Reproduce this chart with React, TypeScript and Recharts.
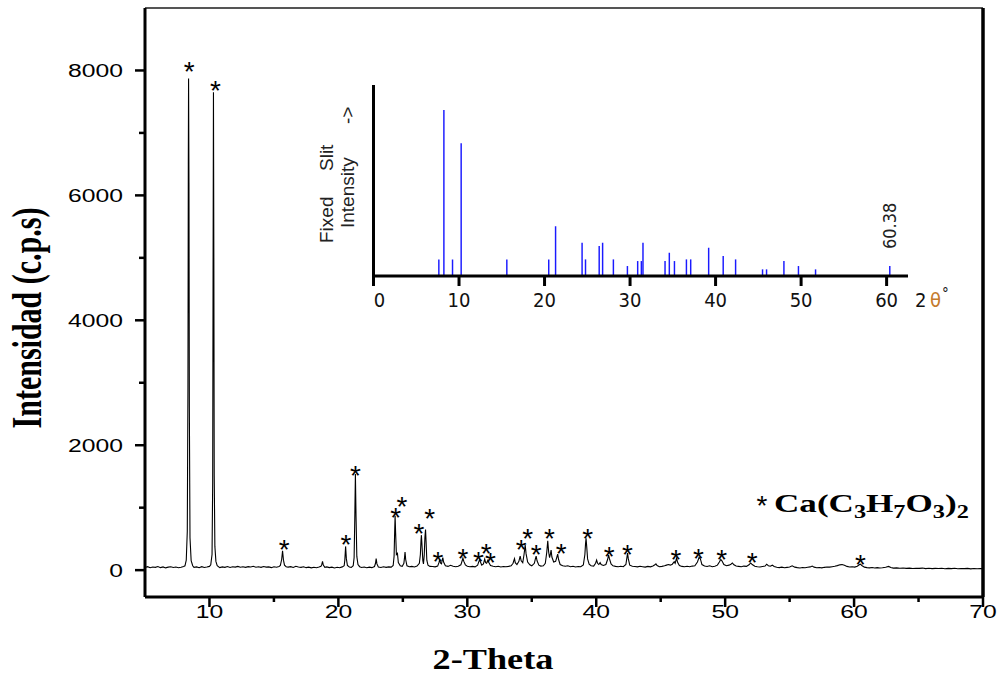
import React from 'react'
import { ComposedChart, Line, Scatter, BarChart, Bar, LabelList, XAxis, YAxis, ReferenceLine } from 'recharts'

// measured scan, [2θ, c.p.s]
const scanLow: [number, number][] = [
  [5.0, 42], [5.2, 55], [5.4, 38], [5.6, 50], [5.8, 44], [6.0, 58], [6.2, 40], [6.4, 52], [6.6, 36], [6.8, 48],
  [7.0, 55], [7.2, 42], [7.4, 50], [7.6, 38], [7.8, 47], [8.0, 58],
  [8.1, 70], [8.2, 160], [8.28, 620], [8.33, 2900], [8.36, 6500], [8.38, 7870], [8.41, 6200], [8.44, 2600], [8.49, 520], [8.58, 150], [8.7, 70],
  [8.8, 45], [9.0, 52], [9.2, 38], [9.4, 55], [9.6, 42], [9.8, 50], [10.0, 60],
  [10.1, 85], [10.2, 250], [10.25, 1400], [10.28, 4800], [10.31, 7650], [10.34, 5000], [10.37, 1500], [10.42, 380], [10.5, 140], [10.6, 70],
  [10.8, 40], [11.0, 52], [11.2, 45], [11.4, 58], [11.6, 42], [11.8, 55], [12.0, 48], [12.2, 60], [12.4, 46], [12.6, 54],
  [12.8, 44], [13.0, 56], [13.2, 50], [13.4, 62], [13.6, 47], [13.8, 55], [14.0, 45], [14.2, 58], [14.4, 48], [14.6, 52],
  [14.8, 40], [15.0, 55], [15.2, 46], [15.4, 58],
  [15.5, 75], [15.6, 170], [15.67, 310], [15.74, 160], [15.82, 80], [15.95, 55],
  [16.1, 48], [16.3, 56], [16.5, 42], [16.7, 62], [16.9, 50], [17.1, 44], [17.3, 55], [17.5, 40], [17.7, 48], [17.9, 36],
  [18.1, 45], [18.3, 38], [18.5, 50], [18.65, 60], [18.72, 95], [18.77, 140], [18.83, 80], [18.95, 45],
  [19.1, 52], [19.3, 40], [19.5, 48], [19.7, 35], [19.9, 46], [20.1, 38], [20.3, 52], [20.45, 70],
]

const scanMid: [number, number][] = [
  [20.5, 160], [20.56, 380], [20.62, 180], [20.7, 75], [20.85, 50], [21.0, 45], [21.15, 70],
  [21.22, 200], [21.27, 800], [21.32, 1540], [21.37, 850], [21.43, 220], [21.52, 90], [21.65, 55],
  [21.8, 42], [22.0, 50], [22.2, 38], [22.4, 48], [22.6, 40], [22.8, 58],
  [22.88, 110], [22.93, 185], [22.99, 100], [23.1, 50],
  [23.3, 42], [23.5, 55], [23.7, 45], [23.9, 52], [24.1, 48], [24.25, 75],
  [24.32, 220], [24.37, 650], [24.4, 870], [24.44, 600], [24.5, 250], [24.58, 270], [24.65, 120], [24.8, 70], [24.95, 60], [25.08, 110],
  [25.13, 200], [25.17, 290], [25.22, 170], [25.32, 70], [25.5, 55], [25.7, 60], [25.9, 50], [26.1, 65], [26.28, 110],
  [26.36, 250], [26.41, 480], [26.44, 560], [26.48, 420], [26.55, 150], [26.6, 100], [26.66, 240], [26.71, 520], [26.76, 650], [26.8, 470],
  [26.86, 160], [26.95, 80], [27.1, 60], [27.3, 58], [27.5, 52], [27.7, 65],
  [27.8, 120], [27.86, 170], [27.93, 110], [28.0, 100], [28.05, 160], [28.1, 200], [28.16, 130], [28.3, 70], [28.5, 60], [28.7, 78],
  [28.9, 62], [29.1, 55], [29.3, 62], [29.5, 85], [29.6, 150], [29.66, 190], [29.73, 140], [29.85, 85], [30.0, 62], [30.2, 55],
  [30.4, 60], [30.6, 52], [30.8, 80], [30.9, 140], [30.95, 165], [31.02, 130], [31.12, 80], [31.25, 100], [31.35, 175], [31.42, 120],
  [31.5, 110], [31.6, 160], [31.68, 120], [31.8, 75], [32.0, 62], [32.2, 55], [32.4, 62], [32.6, 50], [32.8, 58], [33.0, 55],
  [33.2, 60], [33.4, 70], [33.55, 110], [33.62, 160], [33.66, 185], [33.72, 120], [33.85, 90], [34.0, 140], [34.1, 225], [34.18, 150],
  [34.3, 120], [34.4, 250], [34.49, 400], [34.56, 260], [34.68, 130], [34.85, 85], [35.0, 70], [35.2, 110],
  [35.28, 180], [35.34, 225], [35.41, 150], [35.55, 80], [35.7, 65], [35.9, 70], [36.05, 110],
  [36.16, 280], [36.24, 470], [36.31, 290], [36.38, 200], [36.45, 260], [36.5, 320], [36.56, 210], [36.7, 130], [36.85, 140], [36.95, 210],
  [37.01, 255], [37.08, 170], [37.2, 90], [37.4, 70], [37.6, 62], [37.8, 70], [38.0, 55], [38.2, 62], [38.4, 50], [38.6, 58],
  [38.8, 55], [39.0, 85],
]

const scanHigh: [number, number][] = [
  [39.12, 250], [39.17, 420], [39.21, 510], [39.26, 380], [39.33, 180], [39.45, 95], [39.6, 70], [39.8, 65], [39.95, 110], [40.03, 160],
  [40.1, 110], [40.2, 90], [40.3, 120], [40.38, 90], [40.55, 75], [40.75, 90], [40.88, 170], [40.96, 240], [41.03, 180], [41.15, 100],
  [41.3, 70], [41.5, 60], [41.7, 55], [41.9, 62], [42.1, 55], [42.3, 90], [42.38, 200], [42.43, 275], [42.49, 180], [42.6, 80],
  [42.8, 62], [43.0, 58], [43.2, 52], [43.4, 62], [43.6, 55], [43.8, 48], [44.0, 60], [44.2, 52], [44.4, 65], [44.55, 85],
  [44.63, 100], [44.72, 75], [44.9, 55], [45.1, 60], [45.3, 70], [45.45, 80], [45.6, 90], [45.75, 80], [45.9, 95], [46.05, 135],
  [46.12, 110], [46.23, 190], [46.32, 120], [46.45, 75], [46.65, 60], [46.85, 55], [47.05, 62], [47.25, 55], [47.45, 65], [47.65, 70],
  [47.85, 130], [47.98, 205], [48.08, 180], [48.2, 90], [48.4, 65], [48.6, 58], [48.8, 70], [49.0, 55], [49.2, 62], [49.4, 80],
  [49.55, 130], [49.66, 170], [49.75, 150], [49.9, 90], [50.1, 70], [50.3, 80], [50.45, 95], [50.56, 115], [50.68, 85], [50.85, 65],
  [51.05, 60], [51.25, 55], [51.45, 65], [51.65, 60], [51.85, 85], [51.98, 115], [52.1, 90], [52.3, 62], [52.5, 55], [52.7, 50],
  [52.9, 58], [53.1, 65], [53.22, 95], [53.35, 70], [53.5, 62], [53.66, 80], [53.8, 58], [54.0, 45], [54.2, 40], [54.4, 48],
  [54.6, 38], [54.8, 44], [55.0, 50], [55.2, 70], [55.4, 48], [55.6, 40], [55.8, 35], [56.0, 42], [56.2, 38], [56.4, 45],
  [56.6, 52], [56.75, 65], [56.9, 48], [57.1, 38], [57.3, 42], [57.5, 36], [57.7, 45], [57.9, 50], [58.1, 48], [58.3, 55],
  [58.5, 62], [58.7, 72], [58.9, 85], [59.07, 90], [59.25, 78], [59.45, 60], [59.65, 50], [59.85, 55], [60.05, 48], [60.25, 62],
  [60.4, 85], [60.49, 95], [60.6, 75], [60.8, 48], [61.0, 40], [61.2, 36], [61.4, 42], [61.6, 34], [61.8, 40], [62.0, 35],
  [62.2, 38], [62.45, 45], [62.68, 60], [62.85, 42], [63.05, 32], [63.3, 36], [63.55, 30], [63.8, 35], [64.05, 28], [64.3, 32],
  [64.55, 26], [64.8, 30], [65.05, 28], [65.3, 33], [65.55, 25], [65.8, 30], [66.05, 24], [66.3, 29], [66.55, 26], [66.8, 31],
  [67.05, 22], [67.3, 28], [67.55, 25], [67.8, 30], [68.05, 22], [68.3, 27], [68.55, 24], [68.8, 28], [69.05, 20], [69.3, 26],
  [69.55, 22], [69.8, 27], [70.0, 24],
]

// asterisk marks over the indexed reflections
const starTheta = [8.43, 10.46, 15.8, 20.58, 21.33, 24.45, 24.94, 26.25, 27.08, 27.72, 29.66, 30.87, 31.47, 31.8, 34.18, 34.69, 35.34, 36.37, 37.28, 39.33, 41.01, 42.43, 46.18, 47.93, 49.74, 52.1, 60.5]
const starLevel = [8080, 7787, 437, 507, 1627, 944, 1120, 683, 923, 240, 293, 240, 363, 224, 437, 603, 347, 603, 373, 613, 320, 347, 277, 293, 267, 229, 197]

const xTicks = [10, 15, 20, 25, 30, 35, 40, 45, 50, 55, 60, 65, 70]
const yTicks = [0, 1000, 2000, 3000, 4000, 5000, 6000, 7000, 8000]

// reference pattern (inset)
const refTheta = [7.65, 8.24, 9.25, 10.26, 15.6, 20.5, 21.3, 24.4, 24.8, 26.4, 26.8, 28.06, 29.7, 30.9, 31.33, 31.52, 34.1, 34.6, 35.2, 36.6, 37.1, 39.2, 40.9, 42.35, 45.5, 45.97, 48.0, 49.7, 51.7, 60.38]
const refIntensity = [10, 100, 10, 80, 10, 10, 30, 20, 10, 18, 20, 10, 6, 9, 9, 20, 9, 14, 9, 10, 10, 17, 12, 10, 4, 4, 9, 6, 4, 6]
const refTicks = [0, 10, 20, 30, 40, 50, 60]
const labeledPeak = 60.38

const scan = [...scanLow, ...scanMid, ...scanHigh].map(([t, c]) => ({ t, c }))
const stars = starTheta.map((t, i) => ({ t, c: starLevel[i] }))
const refData = refTheta.map((t, i) => ({ t, i: refIntensity[i] }))

const sans = "'Liberation Sans', Arial, sans-serif"
const narrow = "'Liberation Sans Narrow', 'DejaVu Sans Condensed', sans-serif"
const serif = "'Liberation Serif', 'Times New Roman', serif"

const MainXTick = ({ x, y, payload }: any) => {
  const major = payload.value % 10 === 0
  return (
    <g>
      <line x1={x} x2={x} y1={y} y2={y + (major ? 10 : 5)} stroke="#000" strokeWidth={2.5} />
      {major && (
        <text transform={`translate(${x},${y + 21}) scale(1.3,1)`} textAnchor="middle" fontSize={19} fontFamily={sans} fill="#000">
          {payload.value}
        </text>
      )}
    </g>
  )
}

const MainYTick = ({ x, y, payload }: any) => {
  const major = payload.value % 2000 === 0
  return (
    <g>
      <line x1={x} x2={x - (major ? 10 : 6)} y1={y} y2={y} stroke="#000" strokeWidth={2.5} />
      {major && (
        <text transform={`translate(${x - 22},${y + 7}) scale(1.3,1)`} textAnchor="end" fontSize={19} fontFamily={sans} fill="#000">
          {payload.value}
        </text>
      )}
    </g>
  )
}

const Star = ({ cx, cy }: any) => (
  <text x={cx} y={cy + 16} textAnchor="middle" fontSize={28} fontFamily={sans} fill="#000">*</text>
)

const InsetTick = ({ x, y, payload }: any) => (
  <g>
    <line x1={x} x2={x} y1={y} y2={y + 10} stroke="#000" strokeWidth={3} />
    <text x={x + (payload.value === 0 ? 6 : 0)} y={y + 31} textAnchor="middle" fontSize={20} fontFamily={narrow} fill="#111">
      {payload.value}
    </text>
  </g>
)

const PeakTag = ({ x, y, width, value }: any) => {
  if (value !== labeledPeak) return null
  const cx = x + width / 2 + 6
  return (
    <text transform={`translate(${cx},${y - 17}) rotate(-90)`} fontSize={18} fontFamily={narrow} fill="#222">
      {value}
    </text>
  )
}

export default function App() {
  return (
    <div style={{ position: 'absolute', left: 0, top: 0, width: 1002, height: 675, background: '#fff' }}>
      <div style={{ position: 'absolute', left: 0, top: 0 }}>
        <ComposedChart width={1002} height={675} margin={{ top: 8, right: 19, bottom: 48, left: 0 }}>
          <XAxis
            dataKey="t"
            type="number"
            domain={[5, 70]}
            ticks={xTicks}
            interval={0}
            allowDataOverflow
            height={30}
            tickSize={0}
            tickMargin={0}
            tickLine={false}
            tick={<MainXTick />}
            axisLine={{ stroke: '#000', strokeWidth: 3 }}
          />
          <YAxis
            type="number"
            domain={[-430, 9000]}
            ticks={yTicks}
            interval={0}
            allowDataOverflow
            width={145}
            tickSize={0}
            tickMargin={0}
            tickLine={false}
            tick={<MainYTick />}
            axisLine={{ stroke: '#000', strokeWidth: 3 }}
          />
          <ReferenceLine y={9000} stroke="#555" strokeWidth={2} />
          <ReferenceLine x={70} stroke="#000" strokeWidth={3.5} />
          <Line data={scan} dataKey="c" type="linear" stroke="#000" strokeWidth={1.1} dot={false} isAnimationActive={false} />
          <Scatter data={stars} dataKey="c" shape={<Star />} isAnimationActive={false} />
        </ComposedChart>
      </div>

      <div style={{ position: 'absolute', left: 300, top: 60 }}>
        <BarChart width={680} height={260} data={refData} margin={{ top: 25, right: 72, bottom: 0, left: 0 }}>
          <XAxis
            dataKey="t"
            type="number"
            domain={[0, 62.5]}
            ticks={refTicks}
            interval={0}
            allowDataOverflow
            height={44}
            tickSize={0}
            tickMargin={0}
            tickLine={false}
            tick={<InsetTick />}
            axisLine={{ stroke: '#000', strokeWidth: 3 }}
          />
          <YAxis
            type="number"
            domain={[0, 115]}
            width={73.5}
            tick={false}
            tickLine={false}
            axisLine={{ stroke: '#000', strokeWidth: 3 }}
          />
          <Bar dataKey="i" fill="#1a1aff" barSize={2} isAnimationActive={false}>
            <LabelList dataKey="t" content={<PeakTag />} />
          </Bar>
        </BarChart>
      </div>

      <svg width={1002} height={675} style={{ position: 'absolute', left: 0, top: 0, pointerEvents: 'none' }}>
        <text transform="translate(41,318) rotate(-90) scale(1,1.4)" textAnchor="middle" fontFamily={serif} fontWeight="bold" fontSize={30} fill="#000">
          Intensidad (c.p.s)
        </text>
        <text transform="translate(493,669) scale(1.25,1)" textAnchor="middle" fontFamily={serif} fontWeight="bold" fontSize={29} fill="#000">
          2-Theta
        </text>

        <text x={762} y={515} textAnchor="middle" fontSize={28} fontFamily={sans} fill="#000">*</text>
        <text transform="translate(774,512) scale(1.35,1)" fontFamily={serif} fontWeight="bold" fontSize={26} fill="#000">
          Ca(C<tspan fontSize={18} dy={6}>3</tspan>
          <tspan dy={-6}>H</tspan>
          <tspan fontSize={18} dy={6}>7</tspan>
          <tspan dy={-6}>O</tspan>
          <tspan fontSize={18} dy={6}>3</tspan>
          <tspan dy={-6}>)</tspan>
          <tspan fontSize={18} dy={6}>2</tspan>
        </text>

        <g fontFamily={sans} fontSize={19} fill="#222">
          <text transform="translate(333,243) rotate(-90)">Fixed</text>
          <text transform="translate(333,171) rotate(-90)">Slit</text>
          <text transform="translate(354,228) rotate(-90)">Intensity</text>
          <text transform="translate(354,124) rotate(-90)">-&gt;</text>
        </g>
        <text x={915} y={307} fontFamily={narrow} fontSize={20} fill="#111">2</text>
        <text x={930} y={307} fontFamily={narrow} fontSize={20} fill="#c47a2c">θ</text>
        <text x={942} y={299} fontFamily={narrow} fontSize={15} fill="#111">°</text>
      </svg>
    </div>
  )
}
